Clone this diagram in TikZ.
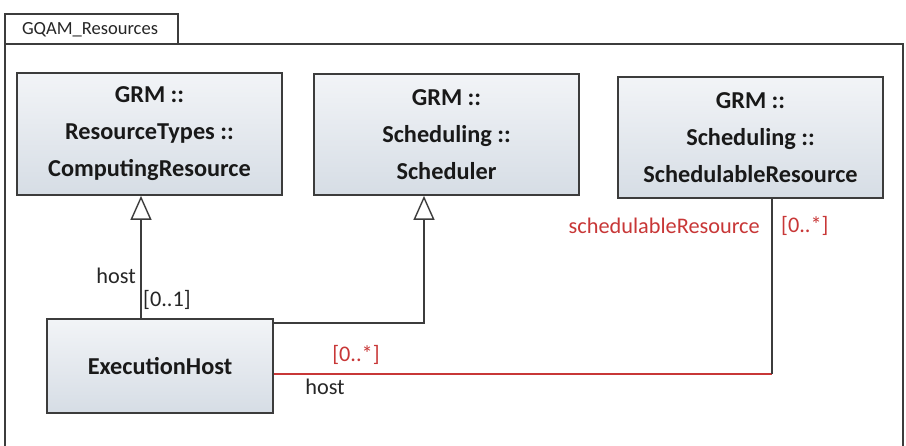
\documentclass[tikz,border=0pt]{standalone}
\usepackage{fontspec}
\setmainfont{Carlito}
\usetikzlibrary{arrows.meta}
\definecolor{boxtop}{RGB}{242,244,247}
\definecolor{boxbot}{RGB}{214,221,229}
\definecolor{edge}{RGB}{60,60,60}
\definecolor{assoc}{RGB}{200,55,55}
\tikzset{
  classbox/.style={draw=edge, line width=1.8pt, top color=boxtop, bottom color=boxbot,
    align=center, font=\fontsize{24.3}{37}\selectfont\bfseries, text=black!90, inner sep=0pt},
  gen/.style={draw=edge, line width=1.4pt,
    -{Triangle[open, length=24pt, width=21pt, line width=1.4pt, fill=white]}},
  link/.style={draw=edge, line width=1.4pt},
  redlink/.style={draw=assoc, line width=1.4pt},
  lbl/.style={font=\fontsize{22.3}{24}\selectfont, inner sep=0pt, text=black!85},
  redlbl/.style={lbl, text=assoc},
}
\begin{document}
\begin{tikzpicture}[x=1pt,y=-1pt]
\useasboundingbox (0,0) rectangle (906,446);
\begin{scope}
\clip (0,0) rectangle (906,446);
% package frame and its name tab
\draw[edge, line width=1.6pt, fill=white] (5,44) rectangle (903,460);
\draw[edge, line width=1.6pt, fill=white] (5,14) rectangle (178,44);
\end{scope}
\node[lbl, font=\fontsize{18.5}{22}\selectfont] (pkg) at (90,30) {GQAM\_Resources};

% classes
\node[classbox, minimum width=265pt, minimum height=122pt] (CR) at (149.5,134)
  {GRM ::\\ResourceTypes ::\\ComputingResource};
\node[classbox, minimum width=265pt, minimum height=121pt] (Sch) at (446.5,134.5)
  {GRM ::\\Scheduling ::\\Scheduler};
\node[classbox, minimum width=265pt, minimum height=121pt] (SR) at (750.5,137.5)
  {GRM ::\\Scheduling ::\\SchedulableResource};
\node[classbox, minimum width=226pt, minimum height=94pt] (EH) at (160,366)
  {ExecutionHost};

% bend points of the connectors
\coordinate (g1) at (141,0);
\coordinate (g2) at (424,323);
\coordinate (a1) at (772,374);

% generalizations
\draw[gen] (EH.north -| g1) -- (CR.south -| g1);
\draw[gen] (EH.east |- g2) -- (g2) -- (Sch.south -| g2);

% association ExecutionHost -- SchedulableResource
\draw[redlink] (EH.east |- a1) -- (a1);
\draw[link] (a1) -- (SR.south -| a1);

% role names and multiplicities
\node[lbl, anchor=east] (hostA) at (136,276) {host};
\node[lbl, anchor=west] (multA) at (143,300) {[0..1]};
\node[redlbl] (multB) at (356,355) {[0..*]};
\node[lbl] (hostB) at (325,387) {host};
\node[redlbl, anchor=east] (roleC) at (760,226) {schedulableResource};
\node[redlbl, anchor=west] (multC) at (781,226) {[0..*]};
\end{tikzpicture}
\end{document}
